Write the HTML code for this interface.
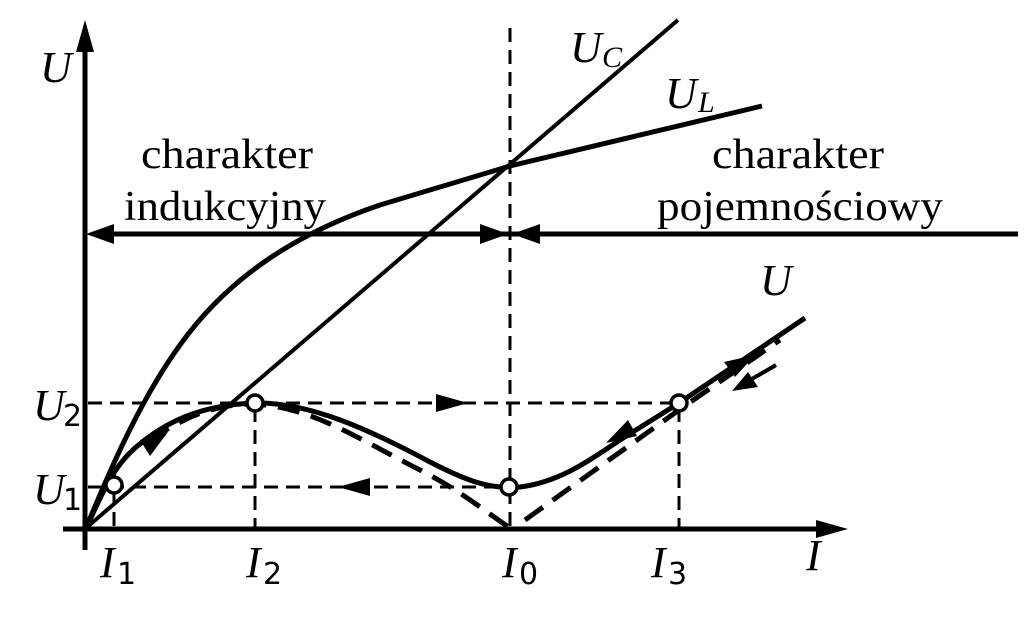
<!DOCTYPE html>
<html><head><meta charset="utf-8"><style>html,body{margin:0;padding:0;background:#fff}</style></head><body>
<svg width="1024" height="615" viewBox="0 0 1024 615" xmlns="http://www.w3.org/2000/svg">
<defs>
<marker id="ah" viewBox="0 0 10 10" refX="10" refY="5" markerWidth="10" markerHeight="10" markerUnits="userSpaceOnUse" orient="auto"><path d="M0,0 L10,5 L0,10 z" fill="#000"/></marker>
</defs>
<g stroke="#000" fill="none">
<!-- axes -->
<line x1="85" y1="550" x2="85" y2="50" stroke-width="5"/>
<polygon points="85,20 76,52 94,52" fill="#000" stroke="none"/>
<line x1="63" y1="529" x2="818" y2="529" stroke-width="5"/>
<polygon points="848,529 816,520 816,538" fill="#000" stroke="none"/>
<!-- dashed guides -->
<g stroke-width="3" stroke-dasharray="14,8">
<line x1="510" y1="28" x2="510" y2="528"/>
<line x1="88" y1="403" x2="679" y2="403"/>
<line x1="88" y1="487" x2="505" y2="487"/>
<line x1="114" y1="490" x2="114" y2="528"/>
<line x1="255" y1="408" x2="255" y2="528"/>
<line x1="679" y1="408" x2="679" y2="528"/>
</g>
<!-- region arrow line -->
<line x1="110" y1="234" x2="1018" y2="234" stroke-width="5"/>
<polygon points="86,234 114,224 114,244" fill="#000" stroke="none"/>
<polygon points="508,234 480,224 480,244" fill="#000" stroke="none"/>
<polygon points="512,234 540,224 540,244" fill="#000" stroke="none"/>
<!-- UC -->
<line x1="86" y1="528" x2="678" y2="20" stroke-width="4"/>
<!-- UL -->
<path d="M86,528 C110,470 140,400 180,345 C230,275 300,232 380,205 C430,190 470,178 510,166 L762,106" stroke-width="5"/>
<!-- U solid -->
<path d="M86,528 C100,500 110,470 135,448 C165,422 200,405 255,403 C310,402 370,430 430,462 C465,480 490,490 520,487 C560,482 590,460 620,440 L679,403 L805,318" stroke-width="5"/>
<!-- U dashed -->
<path d="M150,440 C180,420 210,405 250,404 C310,405 360,440 420,470 C460,490 490,515 510,528 M525,520 L679,410 L780,340" stroke-width="5" stroke-dasharray="22,12"/>
<!-- arrowheads on curve -->
<polygon points="168,432 140,440 150,456" fill="#000" stroke="none" transform="rotate(0)"/>
<polygon points="468,403 436,394 436,412" fill="#000" stroke="none"/>
<polygon points="338,487 370,478 370,496" fill="#000" stroke="none"/>
<polygon points="606,443 628,420 637,436" fill="#000" stroke="none"/>
<polygon points="755,355 724,362 735,377" fill="#000" stroke="none"/>
<line x1="776" y1="365" x2="745" y2="383" stroke-width="4"/>
<polygon points="732,391 748,372 758,387" fill="#000" stroke="none"/>
<!-- circles -->
<circle cx="114" cy="485" r="8" fill="#fff" stroke-width="3.5"/>
<circle cx="255" cy="403" r="8" fill="#fff" stroke-width="3.5"/>
<circle cx="509" cy="487" r="8" fill="#fff" stroke-width="3.5"/>
<circle cx="679" cy="403" r="8" fill="#fff" stroke-width="3.5"/>
</g>
<g font-family="Liberation Serif, serif" fill="#000">
<text x="40" y="82" font-size="44" font-style="italic">U</text>
<text x="570" y="62" font-size="44" font-style="italic">U</text><text x="602" y="67" font-size="30" font-style="italic">C</text>
<text x="665" y="108" font-size="44" font-style="italic">U</text><text x="698" y="112" font-size="30" font-style="italic">L</text>
<text x="760" y="295" font-size="44" font-style="italic">U</text>
<text x="141" y="168" font-size="42" textLength="172" lengthAdjust="spacingAndGlyphs">charakter</text>
<text x="124" y="220" font-size="42" textLength="202" lengthAdjust="spacingAndGlyphs">indukcyjny</text>
<text x="712" y="168" font-size="42" textLength="172" lengthAdjust="spacingAndGlyphs">charakter</text>
<text x="657" y="220" font-size="42" textLength="286" lengthAdjust="spacingAndGlyphs">pojemnościowy</text>
<text x="33" y="420" font-size="44" font-style="italic">U</text><text x="63" y="426" font-size="30" font-family="DejaVu Sans, sans-serif">2</text>
<text x="33" y="504" font-size="44" font-style="italic">U</text><text x="63" y="510" font-size="30" font-family="DejaVu Sans, sans-serif">1</text>
<text x="100" y="577" font-size="44" font-style="italic">I</text><text x="117" y="584" font-size="30" font-family="DejaVu Sans, sans-serif">1</text>
<text x="246" y="577" font-size="44" font-style="italic">I</text><text x="263" y="584" font-size="30" font-family="DejaVu Sans, sans-serif">2</text>
<text x="502" y="577" font-size="44" font-style="italic">I</text><text x="519" y="584" font-size="30" font-family="DejaVu Sans, sans-serif">0</text>
<text x="651" y="577" font-size="44" font-style="italic">I</text><text x="668" y="584" font-size="30" font-family="DejaVu Sans, sans-serif">3</text>
<text x="806" y="570" font-size="44" font-style="italic">I</text>
</g>
</svg>
</body></html>
